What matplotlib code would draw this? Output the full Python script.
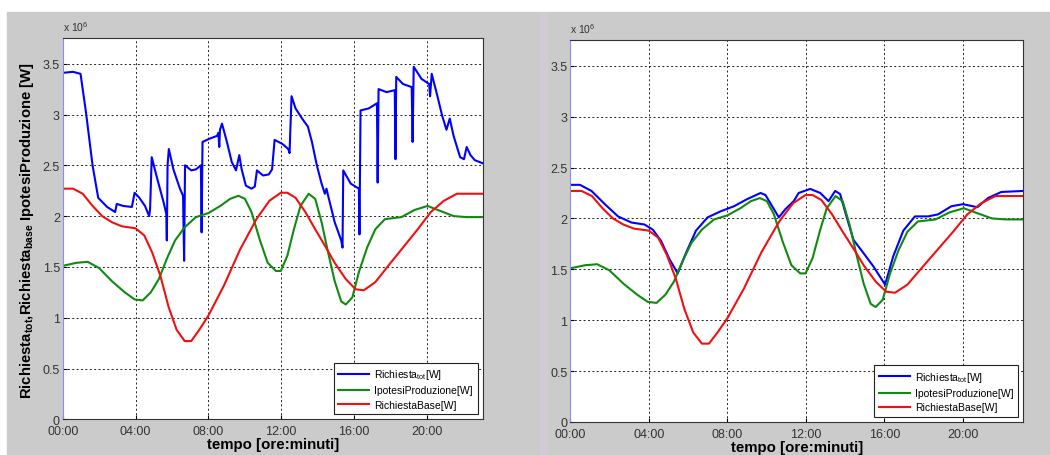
import numpy as np
import matplotlib
matplotlib.use("Agg")
import matplotlib.pyplot as plt
from matplotlib.patches import Rectangle

plt.rcParams["font.family"] = ["Liberation Sans", "DejaVu Sans"]
plt.rcParams["mathtext.fontset"] = "custom"
plt.rcParams["mathtext.rm"] = "Liberation Sans"
plt.rcParams["mathtext.it"] = "Liberation Sans"
plt.rcParams["mathtext.bf"] = "Liberation Sans:bold"

# time in hours, power in 1e6 W
t_tot_left = [0.0, 0.57, 0.98, 1.28, 1.64, 1.95, 2.44, 2.88, 2.97, 3.32, 3.80, 3.95, 4.21, 4.52,
              4.75, 4.80, 4.89, 5.19, 5.55, 5.69, 5.72, 5.76, 5.83, 6.08, 6.44, 6.61, 6.67, 6.72,
              7.06, 7.32, 7.59, 7.63, 7.68, 8.04, 8.48, 8.55, 8.60, 8.64, 8.75, 9.02, 9.29, 9.52,
              9.70, 9.83, 10.06, 10.37, 10.55, 10.67, 11.0, 11.32, 11.50, 11.64, 12.07, 12.39,
              12.46, 12.57, 12.79, 13.15, 13.47, 13.69, 13.96, 14.22, 14.40, 14.49, 14.58, 14.94,
              15.30, 15.37, 15.41, 15.82, 16.27, 16.30, 16.36, 16.81, 17.26, 17.30, 17.35, 17.79,
              18.24, 18.28, 18.32, 18.69, 19.17, 19.22, 19.28, 19.71, 20.13, 20.18, 20.27, 20.57,
              20.84, 21.08, 21.26, 21.47, 21.83, 22.04, 22.19, 22.40, 22.64, 23.07]
p_tot_left = [3.41, 3.42, 3.40, 3.02, 2.50, 2.18, 2.09, 2.04, 2.12, 2.10, 2.09, 2.23, 2.18, 2.10,
              2.00, 2.07, 2.58, 2.37, 2.13, 2.02, 1.76, 2.50, 2.66, 2.46, 2.27, 2.20, 1.56, 2.50,
              2.45, 2.46, 2.50, 1.84, 2.73, 2.76, 2.79, 2.82, 2.68, 2.85, 2.91, 2.73, 2.53, 2.45,
              2.60, 2.46, 2.30, 2.27, 2.29, 2.45, 2.40, 2.41, 2.46, 2.75, 2.71, 2.66,
              2.62, 3.18, 3.06, 2.96, 2.88, 2.73, 2.50, 2.32, 2.22, 2.27, 2.20, 1.94,
              1.76, 1.69, 2.45, 2.32, 2.27, 1.82, 3.04, 3.06, 3.11, 2.33, 3.25, 3.22,
              3.24, 2.56, 3.37, 3.30, 3.27, 2.73, 3.47, 3.35, 3.30, 3.18, 3.40, 3.19,
              2.99, 2.85, 2.96, 2.79, 2.58, 2.56, 2.68, 2.60, 2.55, 2.52]

t_tot_right = [0.0, 0.49, 1.08, 1.76, 2.43, 3.11, 3.78, 4.2, 4.62, 5.05, 5.47, 5.89, 6.40, 6.99,
               7.66, 8.34, 9.01, 9.69, 9.94, 10.28, 10.62, 10.95, 11.38, 11.63, 12.22, 12.73,
               13.15, 13.49, 13.74, 14.08, 14.42, 14.93, 15.43, 16.03, 16.45, 16.96, 17.55,
               18.23, 18.73, 19.41, 20.0, 20.73, 21.27, 21.95, 23.07]
p_tot_right = [2.33, 2.33, 2.27, 2.14, 2.02, 1.96, 1.94, 1.89, 1.78, 1.60, 1.46, 1.66, 1.88, 2.01,
               2.07, 2.12, 2.19, 2.25, 2.23, 2.12, 2.01, 2.09, 2.17, 2.25, 2.29, 2.25,
               2.17, 2.27, 2.24, 2.01, 1.79, 1.66, 1.53, 1.35, 1.63, 1.88, 2.02,
               2.02, 2.04, 2.12, 2.14, 2.11, 2.20, 2.26, 2.27]

t_prod = [0.0, 0.75, 1.37, 1.99, 2.70, 3.41, 3.95, 4.39, 4.84, 5.28, 5.72, 6.17, 6.70, 7.32, 8.0,
          8.66, 9.2, 9.65, 10.01, 10.37, 10.82, 11.26, 11.71, 11.98, 12.34, 12.70, 13.06, 13.51,
          13.87, 14.22, 14.58, 14.94, 15.30, 15.55, 15.91, 16.27, 16.72, 17.17, 17.70, 18.60,
          19.32, 20.04, 20.75, 21.47, 22.19, 23.07]
p_prod = [1.51, 1.54, 1.55, 1.49, 1.36, 1.25, 1.18, 1.17, 1.25, 1.38, 1.58, 1.76, 1.89, 1.99, 2.03,
          2.10, 2.17, 2.20, 2.17, 2.04, 1.77, 1.54, 1.46, 1.46, 1.61, 1.87, 2.10, 2.22,
          2.17, 1.94, 1.64, 1.36, 1.16, 1.13, 1.20, 1.45, 1.69, 1.87, 1.97, 1.99,
          2.06, 2.10, 2.05, 2.00, 1.99, 1.99]

t_base = [0.0, 0.57, 1.1, 1.64, 2.17, 2.70, 3.24, 4.0, 4.48, 4.92, 5.37, 5.81, 6.26, 6.70, 7.06,
          7.50, 8.0, 8.84, 9.74, 10.64, 11.35, 11.98, 12.34, 12.79, 13.33, 13.87, 14.40, 14.94,
          15.55, 16.09, 16.54, 17.17, 17.88, 18.6, 19.5, 20.22, 20.93, 21.65, 22.19, 23.07]
p_base = [2.27, 2.27, 2.22, 2.10, 2.00, 1.94, 1.90, 1.88, 1.81, 1.64, 1.41, 1.11, 0.88, 0.77, 0.77,
          0.88, 1.02, 1.31, 1.67, 1.97, 2.15, 2.23, 2.23, 2.18, 2.04, 1.87, 1.71, 1.54,
          1.38, 1.28, 1.27, 1.35, 1.51, 1.67, 1.87, 2.04, 2.15, 2.22, 2.22, 2.22]

x_ticks = [0, 4, 8, 12, 16, 20]
x_labels = ["00:00", "04:00", "08:00", "12:00", "16:00", "20:00"]
y_ticks = [0, 0.5, 1, 1.5, 2, 2.5, 3, 3.5]
y_labels = ["0", "0.5", "1", "1.5", "2", "2.5", "3", "3.5"]

labels = ["Richiesta$_{tot}$[W]", "IpotesiProduzione[W]", "RichiestaBase[W]"]
BLUE, GREEN, RED = "#0000ff", "#108a10", "#f01010"
GRAY = "#cbcbcb"

W, H = 1050, 456
fig = plt.figure(figsize=(W / 100, H / 100), dpi=100, facecolor="white")
for x0, w, c in [(7, 533, GRAY), (540, 8, "#d2cad6"), (548, 502, GRAY)]:
    fig.patches.append(Rectangle((x0 / W, 0), w / W, 443 / H, transform=fig.transFigure,
                                 color=c, zorder=-5))


def setup(ax):
    ax.set_xlim(0, 23.07)
    ax.set_ylim(0, 3.75)
    ax.set_xticks(x_ticks)
    ax.set_xticklabels(x_labels)
    ax.set_yticks(y_ticks)
    ax.set_yticklabels(y_labels)
    ax.tick_params(direction="in", length=3, labelsize=9, labelcolor="#333333", pad=2)
    ax.tick_params(axis="x", pad=4)
    ax.grid(True, color="#222222", linestyle=(0, (2, 2.5)), linewidth=0.7)
    for s in ax.spines.values():
        s.set_color("#333333")
        s.set_linewidth(0.8)
    ax.spines["left"].set_color("#8c8cf0")
    ax.set_xlabel("tempo [ore:minuti]", fontsize=10.8, fontweight="bold", labelpad=0)
    ax.text(0, 1.015, "x 10$^6$", transform=ax.transAxes, fontsize=7.5, color="#333333",
            ha="left", va="bottom")


def add_legend(ax):
    leg = ax.legend(labels, loc="lower right", fontsize=7.5, handlelength=2.95, labelspacing=0.4,
                    borderpad=0.45, handletextpad=0.5, framealpha=1, fancybox=False,
                    edgecolor="#222222", borderaxespad=0.48)
    leg.get_frame().set_linewidth(0.8)


ax1 = fig.add_axes([62.7 / W, 35.7 / H, 420 / W, 381 / H])
ax1.plot(t_tot_left, p_tot_left, color=BLUE, lw=1.5)
ax1.plot(t_prod, p_prod, color=GREEN, lw=1.5)
ax1.plot(t_base, p_base, color=RED, lw=1.5)
setup(ax1)
add_legend(ax1)
fig.text(27 / W, 0.494, "Richiesta$_{\\mathbf{tot}}$,Richiesta$_{\\mathbf{base}}$ IpotesiProduzione [W]",
         rotation=90, ha="center", va="center", fontsize=10.7, fontweight="bold")

ax2 = fig.add_axes([570.3 / W, 33 / H, 453 / W, 381.7 / H])
ax2.plot(t_tot_right, p_tot_right, color=BLUE, lw=1.5)
ax2.plot(t_prod, p_prod, color=GREEN, lw=1.5)
ax2.plot(t_base, p_base, color=RED, lw=1.5)
setup(ax2)
add_legend(ax2)

fig.savefig("out.png", dpi=100, facecolor=fig.get_facecolor())
